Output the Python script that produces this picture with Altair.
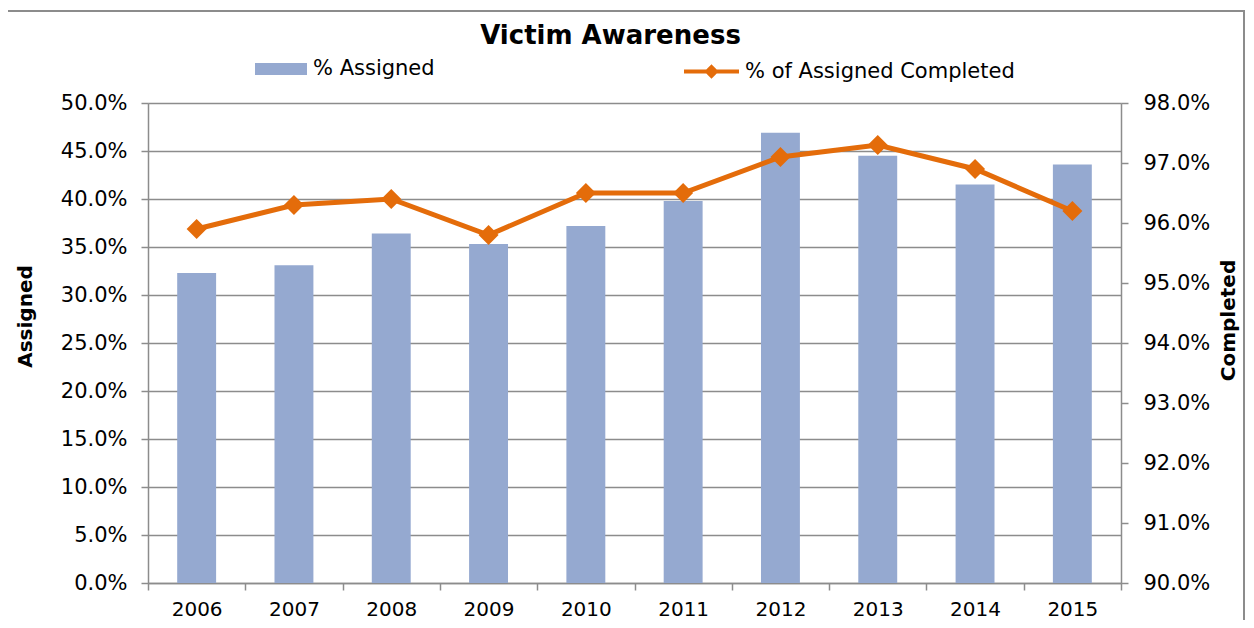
import altair as alt
import pandas as pd

years = ["2006", "2007", "2008", "2009", "2010", "2011", "2012", "2013", "2014", "2015"]
assigned = [0.323, 0.331, 0.364, 0.353, 0.372, 0.398, 0.469, 0.445, 0.415, 0.436]
completed = [0.959, 0.963, 0.964, 0.958, 0.965, 0.965, 0.971, 0.973, 0.969, 0.962]
left_ticks = [0.0, 0.05, 0.10, 0.15, 0.20, 0.25, 0.30, 0.35, 0.40, 0.45, 0.50]
right_ticks = [0.90, 0.91, 0.92, 0.93, 0.94, 0.95, 0.96, 0.97, 0.98]

BAR = "#95A9D0"
ORANGE = "#E46C0A"
GRID = "#8C8C8C"
FONT = "DejaVu Sans"

df = pd.DataFrame({
    "year": years,
    "assigned": assigned,
    "completed": completed,
    "s1": ["% Assigned"] * len(years),
    "s2": ["% of Assigned Completed"] * len(years),
})

W, H = 973, 480

x_enc = alt.X(
    "year:N",
    scale=alt.Scale(paddingInner=0, paddingOuter=0),
    axis=alt.Axis(
        title=None, labelAngle=0, labelFontSize=20, labelFont=FONT, labelColor="black",
        tickBand="extent", tickSize=7, tickColor=GRID, tickWidth=1.5,
        domainColor=GRID, domainWidth=1.5, labelPadding=9, grid=False,
    ),
)

bars = alt.Chart(df).mark_bar(width=alt.RelativeBandSize(0.4)).encode(
    x=x_enc,
    y=alt.Y(
        "assigned:Q",
        scale=alt.Scale(domain=[0, 0.5], nice=False),
        axis=alt.Axis(
            orient="left", values=left_ticks, format=".1%", title="Assigned",
            titleFont=FONT, titleFontSize=20, titleFontWeight="bold", titleColor="black",
            titleAngle=270, titleX=-123, titleY=213, titleAlign="center", titleBaseline="middle",
            labelFont=FONT, labelFontSize=21, labelColor="black", labelPadding=14,
            tickSize=7, tickColor=GRID, tickWidth=1.5, domainColor=GRID, domainWidth=1.5,
            grid=True, gridColor=GRID, gridWidth=1.5,
        ),
    ),
    color=alt.Color(
        "s1:N",
        scale=alt.Scale(domain=["% Assigned"], range=[BAR]),
        legend=alt.Legend(
            title=None, orient="none", legendX=107, legendY=-60, padding=0,
            symbolType="M-1,-0.23L1,-0.23L1,0.23L-1,0.23Z", symbolSize=2704,
            symbolStrokeWidth=0, labelFont=FONT, labelFontSize=21, labelColor="black",
            labelOffset=6, labelLimit=500,
        ),
    ),
)

y_right = alt.Y(
    "completed:Q",
    scale=alt.Scale(domain=[0.90, 0.98], nice=False, zero=False),
    axis=alt.Axis(
        orient="right", values=right_ticks, format=".1%", title="Completed",
        titleFont=FONT, titleFontSize=20, titleFontWeight="bold", titleColor="black",
        titleAngle=270, titleX=107, titleY=217, titleAlign="center", titleBaseline="middle",
        labelFont=FONT, labelFontSize=21, labelColor="black", labelPadding=15,
        tickSize=7, tickColor=GRID, tickWidth=1.5, domainColor=GRID, domainWidth=1.5,
        grid=False,
    ),
)

line = alt.Chart(df).mark_line(strokeWidth=5).encode(
    x=alt.X("year:N"),
    y=y_right,
    stroke=alt.Stroke(
        "s2:N",
        scale=alt.Scale(domain=["% of Assigned Completed"], range=[ORANGE]),
        legend=alt.Legend(
            title=None, orient="none", legendX=534, legendY=-61, padding=0,
            symbolType="M-1,0L1,0M0,-0.16L0.16,0L0,0.16L-0.16,0Z", symbolSize=3025,
            symbolStrokeWidth=4, symbolFillColor=ORANGE, labelFont=FONT, labelFontSize=21,
            labelColor="black", labelOffset=4, labelLimit=500,
        ),
    ),
)

points = alt.Chart(df).mark_point(shape="diamond", size=400, filled=True, color=ORANGE, opacity=1).encode(
    x=alt.X("year:N"),
    y=alt.Y("completed:Q"),
)

frame = alt.Chart(pd.DataFrame({"k": [0]})).mark_rect(fill=None, stroke=GRID, strokeWidth=2).encode(
    x=alt.value(-141), x2=alt.value(W + 123), y=alt.value(-92), y2=alt.value(H + 60)
)

chart = alt.layer(
    bars, alt.layer(line, points), frame
).resolve_scale(
    y="independent"
).properties(
    width=W, height=H,
    title=alt.TitleParams(
        "Victim Awareness", font=FONT, fontSize=26, fontWeight="bold", color="black",
        anchor="middle", dx=-24, dy=43,
    ),
    padding={"left": 140, "top": 95, "right": 125, "bottom": 37},
    autosize=alt.AutoSizeParams(type="none"),
).configure_view(
    stroke=None
).configure(
    background="white"
)

chart.save("out.html", embed_options={"renderer": "svg", "actions": False})
